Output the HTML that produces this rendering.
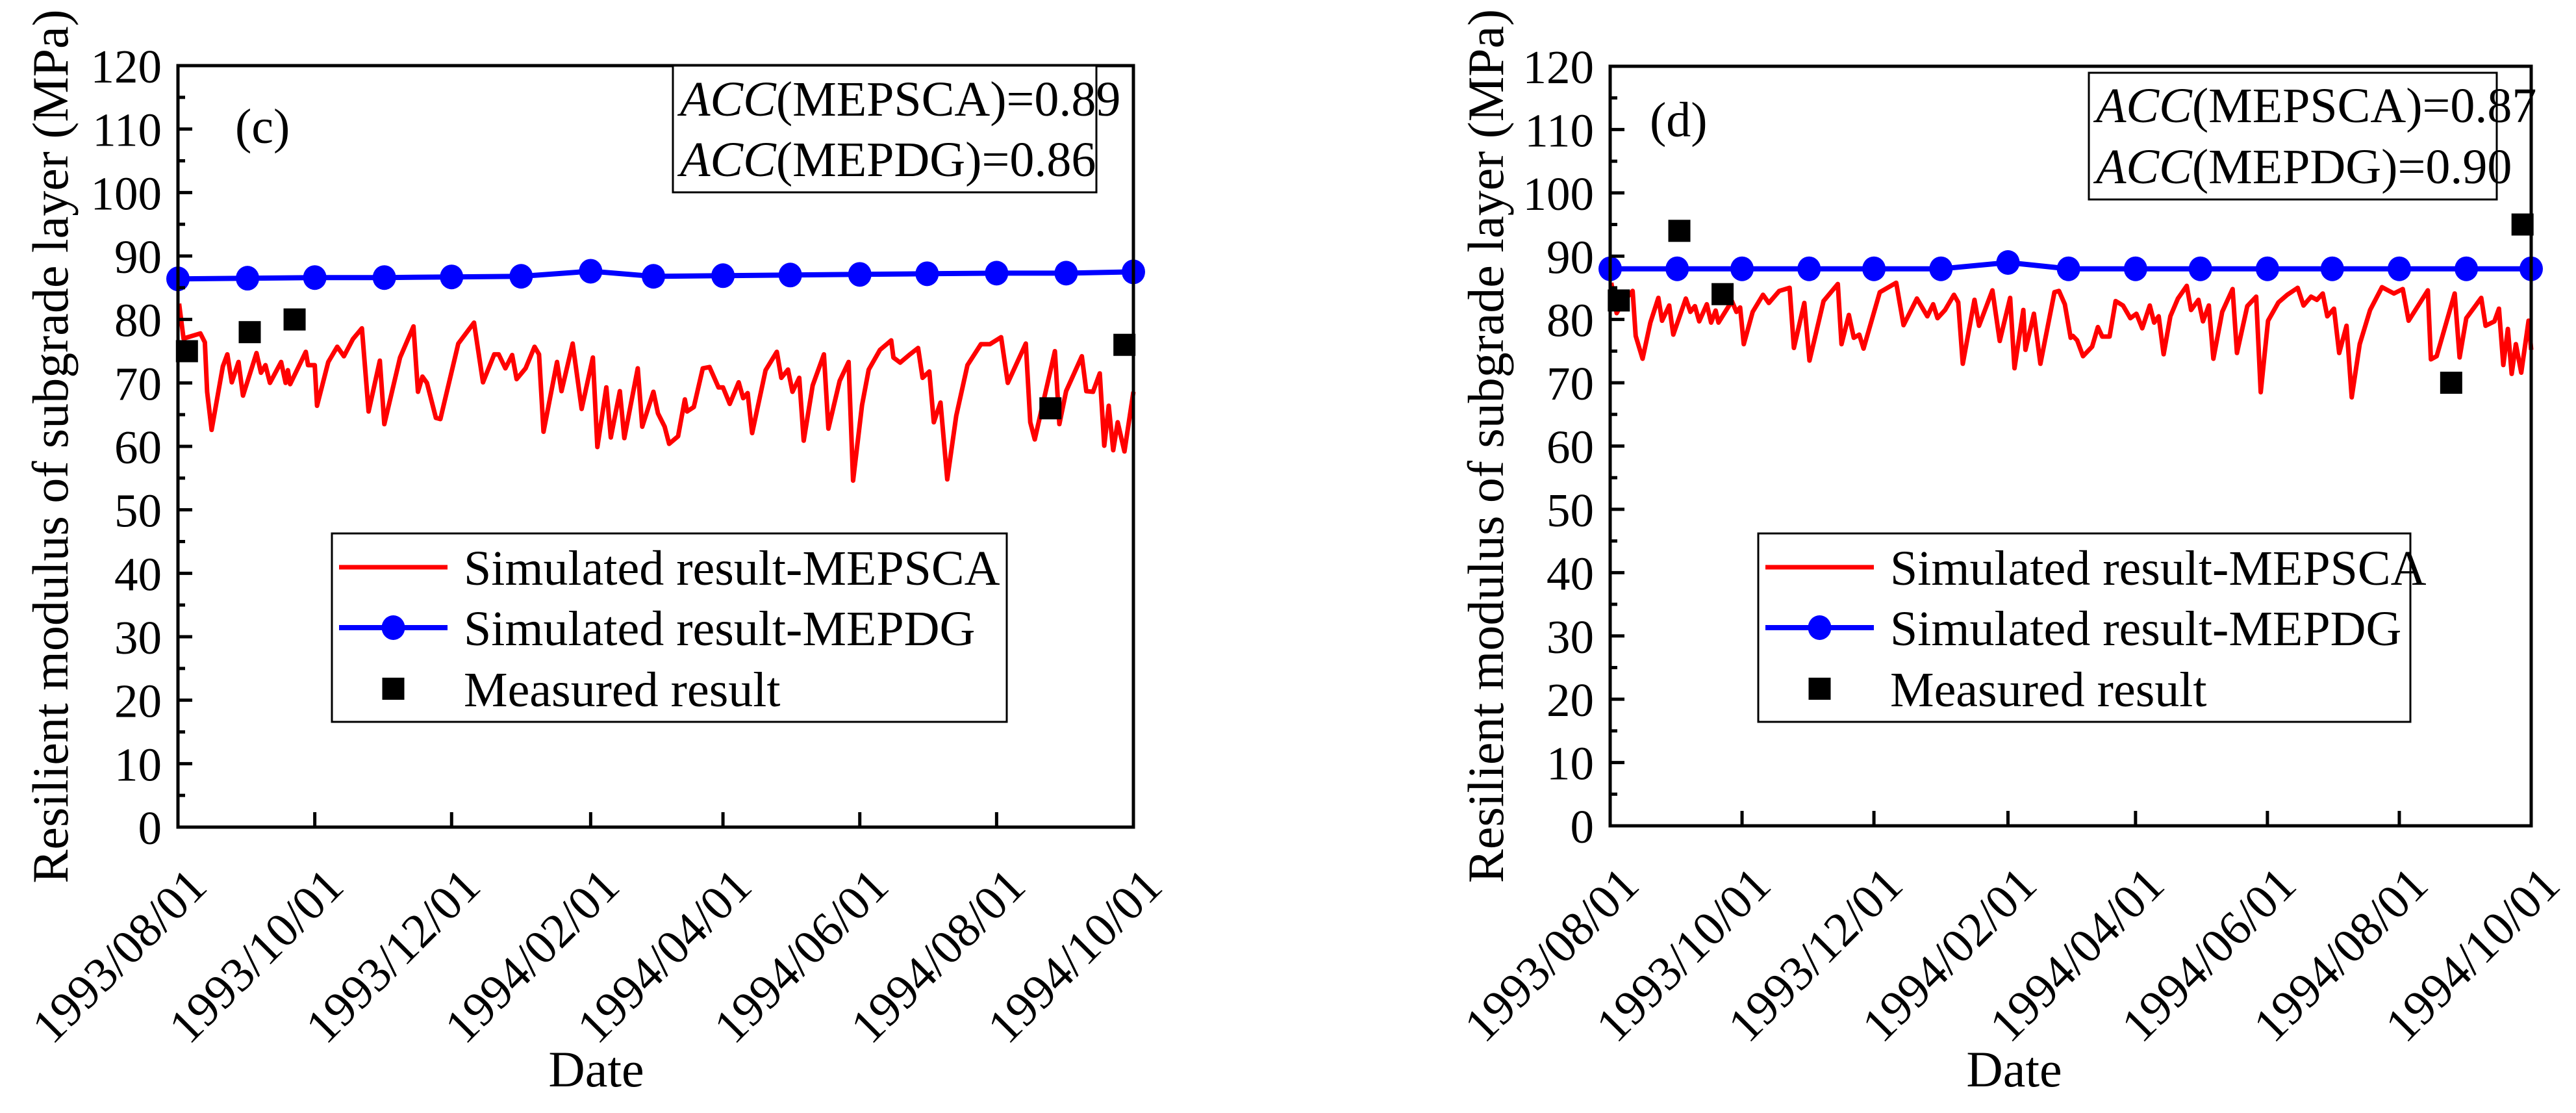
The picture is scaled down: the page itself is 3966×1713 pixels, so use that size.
<!DOCTYPE html>
<html><head><meta charset="utf-8"><style>
html,body{margin:0;padding:0;background:#fff;}
svg{display:block;}
svg text{font-family:"Liberation Serif","Times New Roman",Times,serif;}
</style></head><body>
<svg id="chart" width="3966" height="1713" viewBox="0 0 3966 1713" xmlns="http://www.w3.org/2000/svg" font-family="Liberation Serif, Times New Roman, serif"></svg>
<script>
// ---- data ----
const monthLabels = ["1993/08/01","1993/10/01","1993/12/01","1994/02/01","1994/04/01","1994/06/01","1994/08/01","1994/10/01"];
const monthLabelDays = [0,61,122,184,243,304,365,426];
const yTicks = [0,10,20,30,40,50,60,70,80,90,100,110,120];
const mepdgDays = [0,31,61,92,122,153,184,212,243,273,304,334,365,396,426];
const mepdgC = [86.4,86.5,86.6,86.6,86.7,86.8,87.6,86.8,86.9,87.0,87.1,87.2,87.3,87.3,87.5];
const mepdgD = [88,88,88,88,88,88,89,88,88,88,88,88,88,88,88];
const measDays = [4,32,52,389,422];
const measC = [75,78,80,66,76];
const measD = [83,94,84,70,95];
const redDaysC = [0.5,2.5,10,12,13,15,20,22,24,27,29,35,37,39,41,46,48,49,50,57,58,61,62,67,71,74,78,82,85,90,92,99,105,107,109,111,115,117,125,132,136,141,143,146,149,151,155,159,161,163,169,171,176,180,185,187,191,193,197,199,205,207,212,214,217,219,223,226,227,230,234,237,241,243,246,250,252,254,256,262,267,269,272,274,277,279,283,288,290,295,299,301,305,308,313,318,319,322,326,330,332,335,337,340,343,347,352,358,362,367,370,378,380,382,391,393,396,403,405,408,411,413,415,417,419,422,426];
const redValsC = [82.5,77,77.8,76.4,68.6,62.6,72.6,74.5,70.1,73.3,68,74.7,71.6,72.8,70,73.3,70,72,69.8,74.9,72.8,72.8,66.4,73.3,75.7,74.2,76.9,78.6,65.5,73.5,63.5,74,78.9,68.6,71,70,64.5,64.3,76.2,79.5,70.1,74.5,74.5,72.3,74.4,70.6,72.3,75.7,74.5,62.3,73.3,68.7,76.2,65.9,74,59.9,69.3,61.4,68.7,61.3,72.3,63.1,68.6,65.2,63.1,60.4,61.6,67.4,65.5,66.2,72.3,72.5,69.3,69.3,66.7,70.1,67.6,68.4,62.1,72,74.9,70.8,72.1,68.6,70.8,60.9,69.6,74.5,62.8,70.3,73.3,54.6,66.5,72.1,75.2,76.7,74,73.2,74.4,75.5,70.8,71.8,63.8,66.9,54.8,64.8,72.8,76.1,76.1,77.2,70,76.2,63.8,61.1,75,63.5,68.7,74.2,68.7,68.6,71.5,60.1,66.4,59.4,63.8,59.2,68.6];
const redDaysD = [0.5,3,5.6,10.4,11.8,15,18.6,22.3,24,27.3,29.2,35,37.1,39.2,41.2,44.7,46.7,48.8,50.1,56.3,58.4,60.1,61.8,65.9,70.7,73.4,78.2,83,85,89.8,92.2,98.7,105.3,107,110.4,112.7,115.2,117.2,124.7,132.3,135.7,141.9,146.7,149.4,151.4,154.9,159,161,163.1,168.5,170.6,176.8,180.2,185,187,191.1,192.1,196,199,205.5,207.6,210.3,213,214,216,218.7,222.9,225.6,227.6,231,233.8,237.2,240.6,243.4,246.1,249.6,251.6,253.7,256,259.1,262.6,266.7,268.7,272.1,274.2,276.9,279,283.1,287.9,289.9,294.7,298.8,300.9,304.3,309.1,313.2,318,320.7,324.2,326.9,329.6,331.7,334.8,337.2,340.6,343,346.7,351.5,357,362.5,366.6,369.3,378.2,379.6,382.3,390.6,392.9,396,402.9,404.9,409,411.1,413.1,415.2,417,418.9,421.4,424.8,426];
const redValsD = [85.8,81,82.6,84.5,77.4,73.8,79.5,83.4,79.8,82.2,77.6,83.3,81.2,82.1,79.7,82.4,79.5,81.4,79.5,82.9,81.2,81.9,76.1,81.2,83.9,82.6,84.5,85,75.5,82.6,73.5,82.9,85.6,76.1,80.7,77.1,77.6,75.4,84.3,85.8,79.1,83.3,80.5,82.4,80.2,81.5,83.9,82.7,73,83.1,79,84.6,76.6,83.4,72.3,81.5,75.2,80.9,73,84.3,84.5,82.4,77.1,77.4,76.7,74.2,75.7,78.8,77.3,77.3,82.9,82.2,80.2,80.9,78.6,82.2,79.5,80.5,74.5,80.5,83.3,85.3,81.5,83.1,79.7,82.2,73.8,81.2,84.8,74.7,82.1,83.6,68.5,79.8,82.7,83.9,85,82.2,83.6,83.1,84.1,80.5,81.7,74.7,79,67.7,76.1,81.5,85.1,84.1,84.8,79.8,84.6,73.7,74.2,84.1,74,80.2,83.4,79,79.7,81.7,72.8,78.5,71.4,76.1,71.6,79.8,75.2];

const NS = "http://www.w3.org/2000/svg";
const FONT = "Liberation Serif, Times New Roman, serif";
const svg = document.getElementById('chart');
function mk(tag, attrs, parent){ const e=document.createElementNS(NS,tag); if(tag==='text') e.setAttribute('font-family',FONT); for(const k in attrs) e.setAttribute(k,attrs[k]); (parent||svg).appendChild(e); return e; }

function panel(p){
  const g = mk('g',{});
  
  
  const X = d => p.x0 + d/426*(p.x1-p.x0);
  const Y = v => p.y0 - v/120*(p.y0-p.y1);
  let dR = '';
  p.redDays.forEach((d,i)=>{ dR += (i?'L':'M') + X(d).toFixed(1)+','+Y(p.redVals[i]).toFixed(1); });
  const red = mk('path',{d:dR,fill:'none',stroke:'#ff0000','stroke-width':7,'stroke-linejoin':'round'},g);
  
  
  let dB = '';
  mepdgDays.forEach((d,i)=>{ dB += (i?'L':'M') + X(d).toFixed(1)+','+Y(p.blue[i]).toFixed(1); });
  const blue = mk('path',{d:dB,fill:'none',stroke:'#0000ff','stroke-width':8},g);
  
  
  mepdgDays.forEach((d,i)=>{
    const c = mk('ellipse',{cx:X(d),cy:Y(p.blue[i]),rx:18,ry:19,fill:'#0000ff'},g);
    
    
  });
  measDays.forEach((d,i)=>{
    const s = mk('rect',{x:X(d)-17,y:Y(p.meas[i])-17,width:34,height:34,fill:'#000'},g);
    
    
  });
  const fr = mk('rect',{x:p.x0,y:p.y1,width:p.x1-p.x0,height:p.y0-p.y1,fill:'none',stroke:'#000','stroke-width':5},g);
  
  
  for(let v=0; v<=120; v+=5){
    const len = v%10===0 ? 22 : 11;
    mk('line',{x1:p.x0,x2:p.x0+len,y1:Y(v),y2:Y(v),stroke:'#000','stroke-width':5},g);
  }
  yTicks.forEach(v=>{
    const t = mk('text',{x:p.x0-25,y:Y(v)+26,'text-anchor':'end','font-size':73},g);
    t.textContent = v;
    
    
  });
  monthLabelDays.forEach((d,i)=>{
    mk('line',{x1:X(d),x2:X(d),y1:p.y0,y2:p.y0-23,stroke:'#000','stroke-width':5},g);
    const tx = X(d)+48, ty = p.y0+95;
    const t = mk('text',{x:tx,y:ty,'text-anchor':'end','font-size':75,transform:`rotate(-45 ${tx} ${ty})`},g);
    t.textContent = monthLabels[i];
    
    
  });
  const cy = (p.y0+p.y1)/2;
  const yt = mk('text',{x:p.ylx,y:cy,'text-anchor':'middle','font-size':78,transform:`rotate(-90 ${p.ylx} ${cy})`,'dominant-baseline':'middle'},g);
  yt.textContent = 'Resilient modulus of subgrade layer (MPa)';
  
  
  const xt = mk('text',{x:p.dateX,y:1672,'text-anchor':'middle','font-size':78},g);
  xt.textContent = 'Date';
  
  
  const tg = mk('text',{x:p.tagX,y:p.tagY,'font-size':76},g);
  tg.textContent = '(' + p.id + ')';
  
  
  const ab = mk('rect',{x:p.acc[0],y:p.acc[1],width:p.acc[2],height:p.acc[3],fill:'#fff',stroke:'#000','stroke-width':3},g);
  
  
  p.accLines.forEach((ln,i)=>{
    const t = mk('text',{x:p.acc[0]+11,y:p.accBase[i],'font-size':76},g);
    const it = mk('tspan',{'font-style':'italic'},t);
    it.textContent = 'ACC';
    const rest = mk('tspan',{},t);
    rest.textContent = ln;
    
    
  });
  const lg = mk('g',{},g);
  
  
  mk('rect',{x:p.leg[0],y:821,width:p.leg[1]-p.leg[0],height:290,fill:'#fff',stroke:'#000','stroke-width':3},lg);
  const lx0 = p.leg[0]+11, lx1 = p.leg[0]+178, lm = (lx0+lx1)/2, tx = p.leg[0]+203;
  const names = ['Simulated result-MEPSCA','Simulated result-MEPDG','Measured result'];
  const ys = [873,966,1060];
  mk('line',{x1:lx0,x2:lx1,y1:ys[0],y2:ys[0],stroke:'#ff0000','stroke-width':7},lg);
  mk('line',{x1:lx0,x2:lx1,y1:ys[1],y2:ys[1],stroke:'#0000ff','stroke-width':8},lg);
  mk('ellipse',{cx:lm,cy:ys[1],rx:18,ry:19,fill:'#0000ff'},lg);
  mk('rect',{x:lm-17,y:ys[2]-17,width:34,height:34,fill:'#000'},lg);
  names.forEach((n,i)=>{
    const t = mk('text',{x:tx,y:ys[i]+27,'font-size':76},lg);
    t.textContent = n;
    
    
  });
}

panel({id:'c',x0:274,x1:1745,y0:1273,y1:101,redDays:redDaysC,redVals:redValsC,blue:mepdgC,meas:measC,
  ylx:86,dateX:918,tagX:362,tagY:220,acc:[1036,101,652,195],accLines:['(MEPSCA)=0.89','(MEPDG)=0.86'],accBase:[178,271],leg:[511,1550]});
panel({id:'d',x0:2479,x1:3897,y0:1271,y1:102,redDays:redDaysD,redVals:redValsD,blue:mepdgD,meas:measD,
  ylx:2296,dateX:3101,tagX:2540,tagY:210,acc:[3216,112,628,195],accLines:['(MEPSCA)=0.87','(MEPDG)=0.90'],accBase:[188,282],leg:[2707,3711]});
</script>
</body></html>
